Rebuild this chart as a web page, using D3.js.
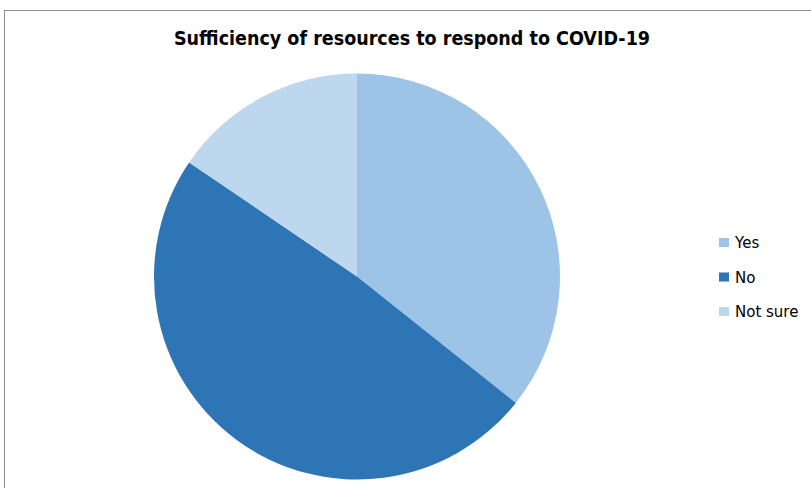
<!DOCTYPE html>
<html>
<head>
<meta charset="utf-8">
<script src="https://cdn.jsdelivr.net/npm/d3@7"></script>
<style>
  html, body { margin: 0; padding: 0; background: #fff; }
  svg { display: block; }
</style>
</head>
<body>
<svg id="chart" width="811" height="488"></svg>
<script>
// Survey answers (share of respondents, %)
const categories = ["Yes", "No", "Not sure"];
const shares = [35.7, 48.8, 15.5];
const colors = ["#9DC3E6", "#2E75B6", "#BDD7EE"];
const titleText = "Sufficiency of resources to respond to COVID-19";

const svg = d3.select("#chart");

// chart frame (extends past the right and bottom edges)
svg.append("rect")
  .attr("x", 4.5).attr("y", 10.5)
  .attr("width", 900).attr("height", 600)
  .attr("fill", "#fff")
  .attr("stroke", "#8c8c8c")
  .attr("stroke-width", 1);

svg.append("text")
  .attr("x", 412).attr("y", 45)
  .attr("text-anchor", "middle")
  .attr("font-family", "'DejaVu Sans Condensed', 'DejaVu Sans', sans-serif")
  .attr("font-weight", "bold")
  .attr("font-size", 19.5)
  .attr("fill", "#000")
  .text(titleText);

const data = categories.map((c, i) => ({ name: c, value: shares[i], color: colors[i] }));

const pie = d3.pie().value(d => d.value).sort(null);
const arc = d3.arc().innerRadius(0).outerRadius(203);

const g = svg.append("g").attr("transform", "translate(357,276.5)");
g.selectAll("path")
  .data(pie(data))
  .join("path")
  .attr("d", arc)
  .attr("fill", d => d.data.color);

// legend
const legendY = d3.scalePoint().domain(categories).range([242.5, 311.5]);
const legend = svg.append("g");
const items = legend.selectAll("g")
  .data(data)
  .join("g")
  .attr("transform", d => `translate(719,${legendY(d.name)})`);
items.append("rect")
  .attr("x", 0).attr("y", -4.5)
  .attr("width", 10).attr("height", 9)
  .attr("fill", d => d.color);
items.append("text")
  .attr("x", 16).attr("y", 5.5)
  .attr("font-family", "'DejaVu Sans', sans-serif")
  .attr("font-size", 15)
  .attr("fill", "#000")
  .text(d => d.name);
</script>
</body>
</html>
